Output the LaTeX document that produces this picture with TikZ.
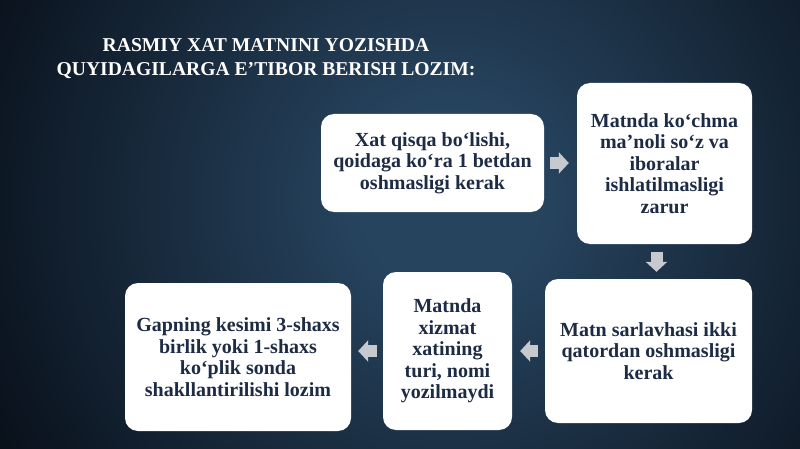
\documentclass[tikz,border=0pt]{standalone}
\usepackage{fontspec}
\setmainfont{Liberation Serif}
\usetikzlibrary{arrows.meta,calc}
\definecolor{bginner}{HTML}{27445F}
\definecolor{bgouter}{HTML}{070D16}
\definecolor{boxtext}{HTML}{1D2B44}
\definecolor{arrowgrey}{HTML}{C6CACF}
\pgfdeclareradialshading{bgshade}{\pgfpoint{0bp}{0bp}}{color(0bp)=(bginner); color(4bp)=(bginner); color(25bp)=(bgouter); color(50bp)=(bgouter)}
\tikzset{
  box/.style={draw=none, fill=white, rounded corners=13pt, align=center,
    text=boxtext, inner sep=4pt, font=\fontsize{20}{21.5}\selectfont\bfseries},
  blockarrow/.style={draw=arrowgrey, line width=12pt,
    -{Triangle[width=21pt,length=10pt]}},
  titletext/.style={text=white, inner sep=0pt, anchor=base,
    font=\fontsize{19.6}{24}\selectfont\bfseries}
}
\begin{document}
\begin{tikzpicture}[x=1pt,y=-1pt]
\useasboundingbox (0,0) rectangle (800,449);
\fill[bgouter] (0,0) rectangle (800,449);
\begin{scope}
\clip (0,0) rectangle (800,449);
\fill[shading=bgshade] (450,200) circle[radius=540pt];
\end{scope}
\node[titletext] (t1) at (266,52) {RASMIY XAT MATNINI YOZISHDA};
\node[titletext] (t2) at (266,76) {QUYIDAGILARGA E’TIBOR BERISH LOZIM:};
\node[box, minimum width=223pt, minimum height=98pt] (b1) at (432.5,163)
  {Xat qisqa bo‘lishi,\\qoidaga ko‘ra 1 betdan\\oshmasligi kerak};
\node[box, minimum width=175pt, minimum height=161pt] (b2) at (664.5,163.5)
  {Matnda ko‘chma\\ma’noli so‘z va\\iboralar\\ishlatilmasligi\\zarur};
\node[box, minimum width=207pt, minimum height=144pt] (b3) at (648.5,351)
  {Matn sarlavhasi ikki\\qatordan oshmasligi\\kerak};
\node[box, minimum width=129pt, minimum height=158pt] (b4) at (447.5,351)
  {Matnda\\xizmat\\xatining\\turi, nomi\\yozilmaydi};
\node[box, minimum width=226pt, minimum height=148pt] (b5) at (238,357)
  {Gapning kesimi 3-shaxs\\birlik yoki 1-shaxs\\ko‘plik sonda\\shakllantirilishi lozim};
\draw[blockarrow, shorten <=6pt, shorten >=8pt] (b1.east) -- (b2.west |- b1.east);
\coordinate (dmid) at ($(b2.south)!0.5!(b3.north)$);
\draw[blockarrow, shorten <=8pt, shorten >=7pt] (b2.south -| dmid) -- (b3.north -| dmid);
\draw[blockarrow, shorten <=7pt, shorten >=8pt] (b3.west) -- (b4.east |- b3.west);
\draw[blockarrow, shorten <=6pt, shorten >=7pt] (b4.west) -- (b5.east |- b4.west);
\end{tikzpicture}
\end{document}
